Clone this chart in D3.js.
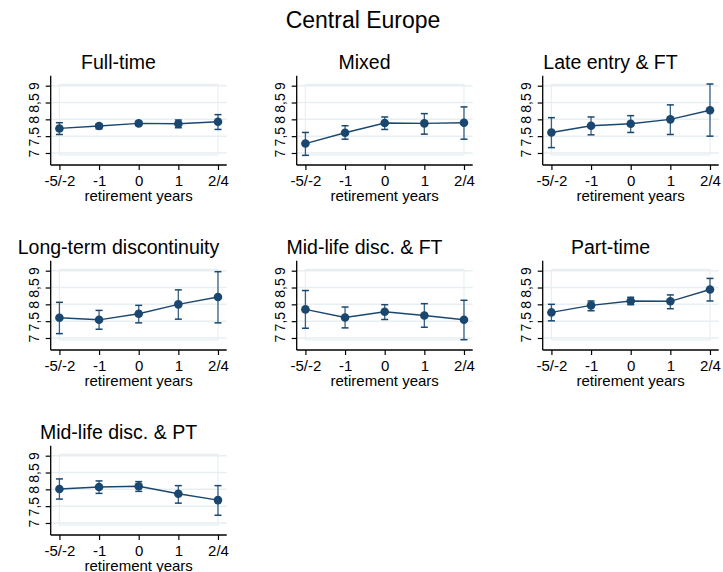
<!DOCTYPE html>
<html>
<head>
<meta charset="utf-8">
<script src="https://cdn.jsdelivr.net/npm/d3@7"></script>
<style>
  html, body { margin: 0; padding: 0; background: #fff; }
  svg { display: block; font-family: "Liberation Sans", Arial, sans-serif; }
</style>
</head>
<body>
<svg id="chart" width="723" height="572"></svg>
<script>
// Career-type panels, mean life satisfaction around retirement with 95% CIs
const groups = [
  "Full-time", "Mixed", "Late entry & FT",
  "Long-term discontinuity", "Mid-life disc. & FT", "Part-time",
  "Mid-life disc. & PT"
];
const periods = ["-5/-2", "-1", "0", "1", "2/4"];
const yTicks = [7, 7.5, 8, 8.5, 9];

const means = [
  [7.73, 7.80, 7.88, 7.87, 7.93],
  [7.28, 7.60, 7.89, 7.88, 7.90],
  [7.61, 7.81, 7.87, 8.00, 8.27],
  [7.60, 7.54, 7.72, 8.00, 8.22],
  [7.85, 7.61, 7.78, 7.67, 7.54],
  [7.76, 7.97, 8.10, 8.09, 8.44],
  [8.01, 8.07, 8.09, 7.87, 7.68]
];
const lower = [
  [7.55, 7.72, 7.82, 7.75, 7.70],
  [6.93, 7.41, 7.70, 7.56, 7.41],
  [7.16, 7.54, 7.61, 7.55, 7.50],
  [7.13, 7.26, 7.45, 7.56, 7.45],
  [7.29, 7.30, 7.55, 7.32, 6.95],
  [7.51, 7.81, 7.99, 7.87, 8.10],
  [7.71, 7.88, 7.94, 7.59, 7.23]
];
const upper = [
  [7.90, 7.86, 7.93, 7.98, 8.14],
  [7.61, 7.81, 8.07, 8.17, 8.37],
  [8.05, 8.07, 8.11, 8.43, 9.05],
  [8.06, 7.82, 7.97, 8.43, 8.97],
  [8.41, 7.92, 7.99, 8.02, 8.12],
  [8.00, 8.10, 8.21, 8.28, 8.77],
  [8.31, 8.25, 8.23, 8.11, 8.11]
];

const navy = "#1a476f";
const gridColor = "#e7eff2";
const colPitch = 246, rowPitch = 185;
const fmt = v => String(v).replace(".", ",");

const svg = d3.select("#chart");

svg.append("text")
  .attr("x", 363).attr("y", 28)
  .attr("text-anchor", "middle")
  .attr("font-size", 23)
  .attr("fill", "#000")
  .text("Central Europe");

groups.forEach((name, i) => {
  const col = i % 3, row = Math.floor(i / 3);
  const ox = col * colPitch, oy = row * rowPitch;

  const x = d3.scalePoint().domain(periods)
    .range([ox + 50.7, ox + 226.7]).padding(0.22);
  const y = d3.scaleLinear().domain([6.643, 9.297])
    .range([oy + 165, oy + 75.7]);

  const g = svg.append("g");

  // panel title
  g.append("text")
    .attr("x", ox + 118.5).attr("y", oy + 69.3)
    .attr("text-anchor", "middle")
    .attr("font-size", 19.5)
    .attr("fill", "#000")
    .text(name);

  // gridlines
  g.append("g").selectAll("line").data(yTicks).join("line")
    .attr("x1", ox + 50.7).attr("x2", ox + 226.7)
    .attr("y1", d => y(d)).attr("y2", d => y(d))
    .attr("stroke", gridColor).attr("stroke-width", 1.5);

  // inner plot-region outline
  g.append("rect")
    .attr("x", x(periods[0])).attr("y", y(9.04))
    .attr("width", x(periods[4]) - x(periods[0]))
    .attr("height", y(6.94) - y(9.04))
    .attr("fill", "none").attr("stroke", gridColor).attr("stroke-width", 1.2);

  // y axis
  const yAxis = g.append("g")
    .attr("transform", `translate(${ox + 50.7},0)`)
    .call(d3.axisLeft(y).tickValues(yTicks).tickFormat(fmt).tickSize(5).tickPadding(6));
  yAxis.select(".domain").attr("d", `M0,${oy + 75.7}V${oy + 165}`)
    .attr("stroke", "#000").attr("stroke-width", 1.3);
  yAxis.selectAll(".tick line").attr("stroke", "#000").attr("stroke-width", 1.2);
  yAxis.selectAll(".tick text")
    .attr("font-size", 14).attr("fill", "#000")
    .attr("font-family", "Liberation Sans, Arial, sans-serif")
    .attr("transform", "rotate(-90)")
    .attr("x", 0).attr("y", -11.5)
    .attr("dy", 0)
    .attr("text-anchor", "middle");

  // x axis
  const xAxis = g.append("g")
    .attr("transform", `translate(0,${oy + 165})`)
    .call(d3.axisBottom(x).tickSize(5).tickPadding(4));
  xAxis.select(".domain").attr("d", `M${ox + 50.7},0H${ox + 226.7}`)
    .attr("stroke", "#000").attr("stroke-width", 1.3);
  xAxis.selectAll(".tick line").attr("stroke", "#000").attr("stroke-width", 1.2);
  xAxis.selectAll(".tick text")
    .attr("font-size", 15).attr("fill", "#000")
    .attr("font-family", "Liberation Sans, Arial, sans-serif")
    .attr("dy", 0).attr("y", 21);

  g.append("text")
    .attr("x", x(periods[2])).attr("y", oy + 200.5)
    .attr("text-anchor", "middle")
    .attr("font-size", 15)
    .attr("fill", "#000")
    .text("retirement years");

  // confidence intervals
  const ci = periods.map((p, j) => ({ p, lo: lower[i][j], hi: upper[i][j] }));
  const bars = g.append("g").attr("stroke", navy);
  bars.selectAll("line.v").data(ci).join("line").attr("class", "v")
    .attr("x1", d => x(d.p)).attr("x2", d => x(d.p))
    .attr("y1", d => y(d.lo)).attr("y2", d => y(d.hi))
    .attr("stroke-width", 1.3).attr("stroke-opacity", 0.85);
  bars.selectAll("line.cl").data(ci).join("line").attr("class", "cl")
    .attr("x1", d => x(d.p) - 3.5).attr("x2", d => x(d.p) + 3.5)
    .attr("y1", d => y(d.lo)).attr("y2", d => y(d.lo))
    .attr("stroke-width", 1.5);
  bars.selectAll("line.ch").data(ci).join("line").attr("class", "ch")
    .attr("x1", d => x(d.p) - 3.5).attr("x2", d => x(d.p) + 3.5)
    .attr("y1", d => y(d.hi)).attr("y2", d => y(d.hi))
    .attr("stroke-width", 1.5);

  // connected means
  const pts = periods.map((p, j) => ({ p, v: means[i][j] }));
  g.append("path").datum(pts)
    .attr("fill", "none").attr("stroke", navy).attr("stroke-width", 1.4)
    .attr("d", d3.line().x(d => x(d.p)).y(d => y(d.v)));
  g.append("g").selectAll("circle").data(pts).join("circle")
    .attr("cx", d => x(d.p)).attr("cy", d => y(d.v))
    .attr("r", 4.3).attr("fill", navy);
});
</script>
</body>
</html>
